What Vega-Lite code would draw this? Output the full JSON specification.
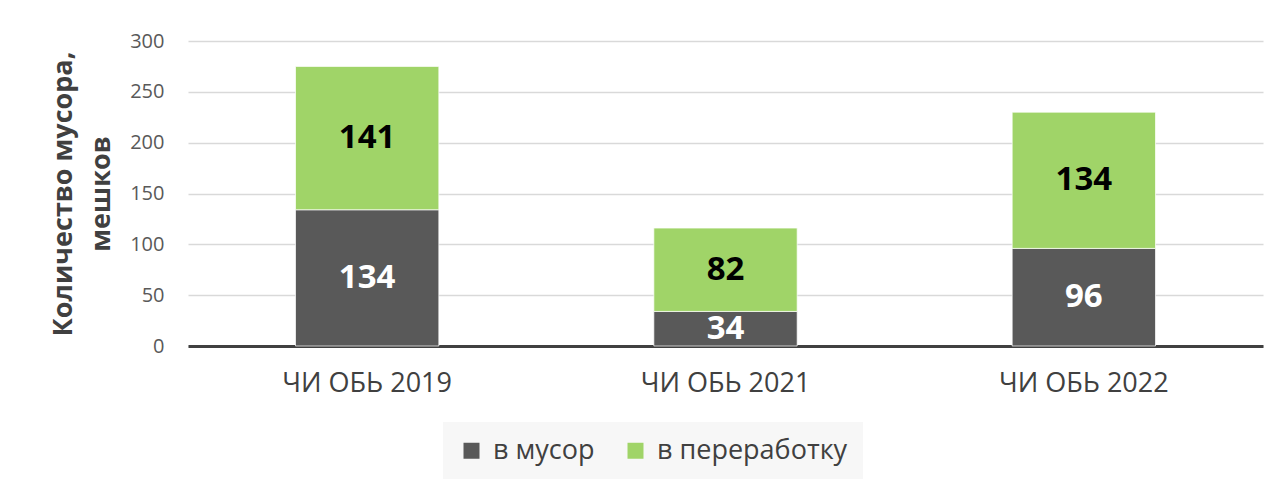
{
  "$schema": "https://vega.github.io/schema/vega-lite/v6.json",
  "width": 1075,
  "height": 305,
  "autosize": {"type": "none"},
  "padding": {"left": 188, "top": 41, "right": 19, "bottom": 139},
  "background": "white",
  "config": {
    "view": {"stroke": null},
    "font": "Open Sans"
  },
  "data": {
    "values": [
      {"cat": "ЧИ ОБЬ 2019", "series": "в мусор", "v": 134, "order": 1},
      {"cat": "ЧИ ОБЬ 2019", "series": "в переработку", "v": 141, "order": 2},
      {"cat": "ЧИ ОБЬ 2021", "series": "в мусор", "v": 34, "order": 1},
      {"cat": "ЧИ ОБЬ 2021", "series": "в переработку", "v": 82, "order": 2},
      {"cat": "ЧИ ОБЬ 2022", "series": "в мусор", "v": 96, "order": 1},
      {"cat": "ЧИ ОБЬ 2022", "series": "в переработку", "v": 134, "order": 2}
    ]
  },
  "encoding": {
    "x": {
      "field": "cat", "type": "nominal", "sort": null,
      "scale": {"paddingInner": 0.6, "paddingOuter": 0.3},
      "axis": {
        "title": null, "labelAngle": 0, "labelFontSize": 27, "labelColor": "#404040",
        "labelPadding": 24, "ticks": false, "domainColor": "#404040", "domainWidth": 3,
        "grid": false, "labelFont": "Open Sans"
      }
    }
  },
  "layer": [
    {
      "mark": {"type": "bar", "stroke": "#ffffff", "strokeWidth": 1, "strokeOpacity": 0.7},
      "encoding": {
        "y": {
          "field": "v", "type": "quantitative", "stack": "zero",
          "scale": {"domain": [0, 300], "nice": false},
          "axis": {
            "values": [0, 50, 100, 150, 200, 250, 300],
            "title": ["Количество мусора,", "мешков"],
            "titleFontSize": 27, "titleFontWeight": "bold", "titleColor": "#404040",
            "titleLineHeight": 38, "titlePadding": 14, "titleFont": "Open Sans",
            "labelFontSize": 20, "labelColor": "#595959", "labelPadding": 24,
            "domain": false, "ticks": false, "gridColor": "#d9d9d9", "gridWidth": 1.3
          }
        },
        "color": {
          "field": "series", "type": "nominal",
          "scale": {"domain": ["в мусор", "в переработку"], "range": ["#595959", "#A0D468"]},
          "legend": {
            "title": null, "orient": "none", "direction": "horizontal",
            "legendX": 255, "legendY": 381,
            "fillColor": "#f7f7f7", "padding": 15,
            "symbolType": "square", "symbolSize": 256, "symbolStrokeWidth": 0,
            "labelFontSize": 27, "labelColor": "#404040", "labelOffset": 8,
            "columnPadding": 27, "labelFont": "Open Sans", "labelLimit": 300
          }
        },
        "order": {"field": "order", "type": "quantitative"}
      }
    },
    {
      "transform": [
        {"stack": "v", "groupby": ["cat"], "sort": [{"field": "order"}], "as": ["v0", "v1"]},
        {"fold": ["v0", "v1"], "as": ["k", "pos"]},
        {"aggregate": [{"op": "mean", "field": "pos", "as": "mid"}], "groupby": ["cat", "series", "v"]}
      ],
      "mark": {"type": "text", "fontSize": 33, "fontWeight": "bold", "baseline": "middle", "align": "center", "font": "Open Sans"},
      "encoding": {
        "y": {"field": "mid", "type": "quantitative"},
        "text": {"field": "v", "type": "quantitative"},
        "color": {
          "condition": {"test": "datum.series === 'в мусор'", "value": "#ffffff"},
          "value": "#000000"
        }
      }
    }
  ]
}
